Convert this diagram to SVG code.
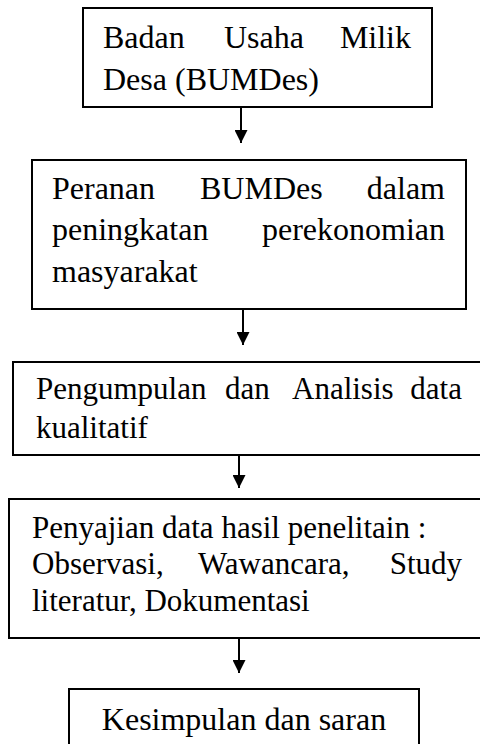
<svg xmlns="http://www.w3.org/2000/svg" width="480" height="744" viewBox="0 0 480 744">
<style>
.box{fill:#fff;stroke:#000;stroke-width:2}
.t{font-family:"Liberation Serif","Times New Roman",serif;font-size:32px;fill:#000}
.s{font-size:31px}
.e{text-anchor:end}
.c{text-anchor:middle}
.conn{stroke:#000;stroke-width:2;fill:none}
</style>
<defs>
<marker id="ah" viewBox="0 0 10 10" refX="10" refY="5" markerWidth="6.5" markerHeight="6.5" markerUnits="strokeWidth" orient="auto">
<path d="M0,0 L10,5 L0,10 Z" fill="#000"/>
</marker>
</defs>
<rect width="480" height="744" fill="#fff"/>
<g id="connectors">
<line class="conn" x1="241" y1="107" x2="241" y2="143" marker-end="url(#ah)"/>
<line class="conn" x1="243" y1="309" x2="243" y2="345" marker-end="url(#ah)"/>
<line class="conn" x1="239" y1="455" x2="239" y2="488" marker-end="url(#ah)"/>
<line class="conn" x1="239" y1="638" x2="239" y2="673" marker-end="url(#ah)"/>
</g>
<g id="node1">
<rect class="box" x="83" y="8" width="349" height="99"/>
<text class="t" y="48"><tspan x="103">Badan</tspan><tspan x="224">Usaha</tspan></text>
<text class="t e" x="411" y="48">Milik</text>
<text class="t" x="103" y="90">Desa (BUMDes)</text>
</g>
<g id="node2">
<rect class="box" x="32" y="160" width="434" height="149"/>
<text class="t" y="199"><tspan x="52">Peranan</tspan><tspan x="200">BUMDes</tspan></text>
<text class="t e" x="445" y="199">dalam</text>
<text class="t" x="52" y="240">peningkatan</text>
<text class="t e" x="445" y="240">perekonomian</text>
<text class="t" x="52" y="282">masyarakat</text>
</g>
<g id="node3">
<rect class="box" x="13" y="362" width="480" height="93"/>
<text class="t s" y="399"><tspan x="36">Pengumpulan</tspan><tspan x="225">dan</tspan><tspan x="292">Analisis</tspan></text>
<text class="t s e" x="462" y="399">data</text>
<text class="t s" x="36" y="438">kualitatif</text>
</g>
<g id="node4">
<rect class="box" x="9" y="499" width="484" height="139"/>
<text class="t s" x="32" y="538">Penyajian data hasil penelitain :</text>
<text class="t s" y="574"><tspan x="32">Observasi,</tspan><tspan x="198">Wawancara,</tspan></text>
<text class="t s e" x="462" y="574">Study</text>
<text class="t s" x="32" y="611">literatur, Dokumentasi</text>
</g>
<g id="node5">
<rect class="box" x="69" y="689" width="350" height="70"/>
<text class="t c" x="244" y="730">Kesimpulan dan saran</text>
</g>
</svg>
